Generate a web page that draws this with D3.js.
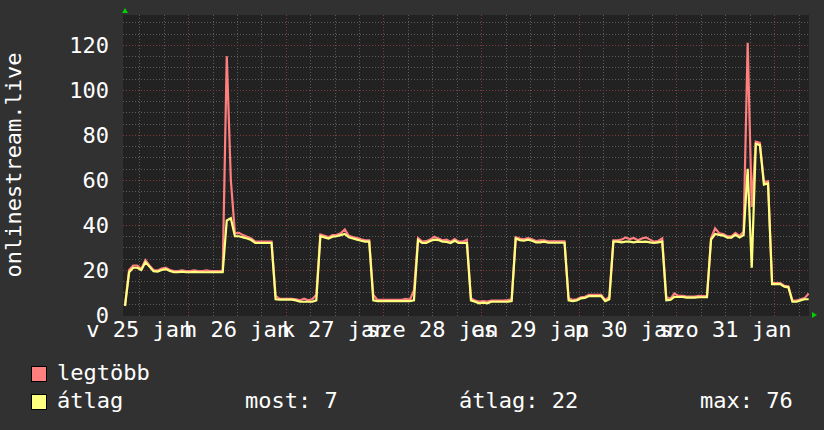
<!DOCTYPE html>
<html>
<head>
<meta charset="utf-8">
<script src="https://cdn.jsdelivr.net/npm/d3@7"></script>
<style>
  html, body { margin: 0; padding: 0; background: #313131; }
  svg { display: block; }
</style>
</head>
<body>
<svg id="chart" width="824" height="430"></svg>
<script>
// ---------- data (hourly, starting 2015-01-25 08:00) ----------
const startTime = new Date(2015, 0, 25, 8, 0, 0);
const spanHours = 168.57;

const avgValues = [
  4, 19, 21, 21, 20, 23.5, 21.5, 19.5, 19.3, 20, 20.4, 19.6, 19, 19, 19.3, 19, 19, 19.2, 19, 19, 19, 19, 19, 19, 19,
  42, 43, 35, 35, 34.5, 34, 33.3, 32, 32, 32, 32, 32,
  7, 6.8, 6.8, 6.8, 6.8, 6.5, 5.9, 5.9, 5.9, 5.9, 6.5,
  35, 34.5, 34, 34.8, 35, 35.5, 36, 34.5, 34, 33.5, 33, 32.6, 32.6,
  6.5, 6.2, 6.2, 6.2, 6.2, 6.2, 6.2, 6.2, 6.2, 6.2, 6.5,
  33.3, 32, 32, 32.9, 33.5, 33.3, 32.6, 32.5, 32, 33, 32, 32, 32,
  6.5, 5.9, 5.2, 5.5, 5.2, 5.9, 5.9, 5.9, 5.9, 5.9, 6.2,
  34, 33.3, 33, 33.5, 33, 32.3, 32.3, 32.6, 32.1, 32.1, 32.1, 32.1, 32.1,
  6.5, 6.2, 6.5, 7.4, 7.6, 8.4, 8.4, 8.4, 8.4, 6.2, 7,
  32.6, 32.6, 32.3, 32.6, 32.6, 32.3, 32.6, 32.5, 32.6, 32.3, 32, 32.3, 32.6,
  6.5, 6.7, 8.1, 8, 8, 7.7, 7.7, 7.7, 7.9, 7.9, 7.9,
  33.5, 36, 35.6, 35.3, 34.4, 34.4, 35.6, 34.5, 35.5,
  65, 21, 76, 75.5, 58, 58.5,
  13.7, 13.7, 13.7, 12.6, 12.3, 5.9, 5.9, 6.5, 7, 7
];

const maxValues = [
  4.5, 20, 22, 22, 20.5, 24.4, 22, 20, 19.8, 20.6, 21, 20, 19.5, 19.5, 19.8, 19.5, 19.5, 19.8, 19.5, 19.5, 19.8, 19.5, 19.5, 19.5, 19.6,
  115, 60, 36.3, 36.5, 35.5, 34.8, 34, 32.6, 32.6, 32.6, 32.6, 32.6,
  8.5, 7.2, 7.2, 7.2, 7.2, 7, 6.5, 7.2, 6.5, 7, 9,
  35.8, 35.2, 34.6, 35.5, 35.6, 36.3, 38, 35.2, 34.6, 34.2, 33.6, 33.2, 33.2,
  9, 6.7, 6.7, 6.7, 6.7, 6.7, 6.7, 6.7, 7.2, 6.7, 11,
  34.2, 32.6, 32.8, 33.5, 34.8, 34, 33.2, 33.5, 32.6, 33.8, 32.6, 32.6, 33.5,
  7.5, 6.4, 6, 6.2, 6, 6.4, 6.4, 6.4, 6.4, 6.6, 7,
  34.6, 34, 33.6, 34.2, 33.6, 32.9, 33.2, 33.2, 32.7, 32.7, 32.7, 32.7, 32.7,
  7.5, 6.7, 7, 7.9, 8.1, 8.9, 8.9, 8.9, 8.9, 6.7, 8,
  33.2, 33.2, 33.5, 34.5, 33.7, 34.2, 33.2, 34, 34.5, 33.5, 32.6, 32.9, 34,
  8, 7.2, 9.6, 8.5, 8.5, 8.2, 8.2, 8.2, 8.5, 8.4, 8.4,
  34.2, 38.5, 36.3, 36, 35, 35, 36.5, 35.2, 37,
  121, 48, 77, 76.5, 59, 59.5,
  14.2, 14.2, 14.2, 13, 12.8, 6.4, 6.4, 7, 7.5, 9.6
];

const yTickValues = [0, 20, 40, 60, 80, 100, 120];
const dayLabels = ["v 25 jan", "h 26 jan", "k 27 jan", "sze 28 jan", "cs 29 jan", "p 30 jan", "szo 31 jan"];
const seriesNames = ["legtöbb", "átlag"];
const seriesColors = ["#ff7f7f", "#ffff7f"];
const statLabels = ["most: 7", "átlag: 22", "max: 76"];
const yTitle = "onlinestream.live";

// ---------- layout ----------
const FONT = "'DejaVu Sans Mono', monospace";
const plot = { left: 123, top: 15, width: 686, height: 300 };
const svg = d3.select("#chart");

const endTime = new Date(+startTime + spanHours * 3600e3);
const x = d3.scaleTime().domain([startTime, endTime]).range([plot.left, plot.left + plot.width]);
const y = d3.scaleLinear().domain([0, 133.33]).range([plot.top + plot.height, plot.top]);

const hourDate = h => new Date(+startTime + h * 3600e3);

// background
svg.append("rect").attr("x", 0).attr("y", 0).attr("width", 824).attr("height", 430).attr("fill", "#313131");
svg.append("rect").attr("x", plot.left).attr("y", plot.top).attr("width", plot.width).attr("height", plot.height + 1)
  .attr("fill", "#222222");

// grid
const grid = svg.append("g");
const minorY = d3.range(5, 133, 5).filter(v => v % 20 !== 0);
grid.selectAll("line.minorY").data(minorY).join("line")
  .attr("x1", plot.left).attr("x2", plot.left + plot.width)
  .attr("y1", d => Math.round(y(d)) + 0.5).attr("y2", d => Math.round(y(d)) + 0.5)
  .attr("stroke", "#5c5c5c").attr("stroke-width", 1).attr("stroke-dasharray", "1,2");

const minorX = d3.timeHour.every(6).range(startTime, endTime).filter(d => d.getHours() !== 0);
grid.selectAll("line.minorX").data(minorX).join("line")
  .attr("x1", d => Math.round(x(d)) + 0.5).attr("x2", d => Math.round(x(d)) + 0.5)
  .attr("y1", plot.top).attr("y2", plot.top + plot.height + 2)
  .attr("stroke", "#5c5c5c").attr("stroke-width", 1).attr("stroke-dasharray", "1,2");

grid.selectAll("line.majorY").data(yTickValues.filter(v => v > 0)).join("line")
  .attr("x1", plot.left).attr("x2", plot.left + plot.width)
  .attr("y1", d => Math.round(y(d)) + 0.5).attr("y2", d => Math.round(y(d)) + 0.5)
  .attr("stroke", "#803c3c").attr("stroke-width", 1).attr("stroke-dasharray", "1,2");

const majorX = d3.timeDay.range(startTime, endTime);
grid.selectAll("line.majorX").data(majorX).join("line")
  .attr("x1", d => Math.round(x(d)) + 0.5).attr("x2", d => Math.round(x(d)) + 0.5)
  .attr("y1", plot.top).attr("y2", plot.top + plot.height + 2)
  .attr("stroke", "#803c3c").attr("stroke-width", 1).attr("stroke-dasharray", "1,2");

// y axis labels
svg.append("g").selectAll("text").data(yTickValues).join("text")
  .attr("x", 109).attr("y", d => y(d) + 8)
  .attr("text-anchor", "end")
  .attr("font-family", FONT).attr("font-size", 22).attr("fill", "#ffffff")
  .text(d => d);

// x axis labels (centred on noon)
const noons = d3.timeDay.range(d3.timeDay.floor(startTime), endTime).map(d => d3.timeHour.offset(d, 12));
svg.append("g").selectAll("text").data(dayLabels).join("text")
  .attr("x", (d, i) => x(noons[i])).attr("y", 337)
  .attr("text-anchor", "middle")
  .attr("font-family", FONT).attr("font-size", 22).attr("fill", "#ffffff")
  .attr("xml:space", "preserve")
  .text(d => d);

// y title
svg.append("text")
  .attr("transform", `translate(21, ${plot.top + plot.height / 2}) rotate(-90)`)
  .attr("text-anchor", "middle")
  .attr("font-family", FONT).attr("font-size", 22).attr("fill", "#ffffff")
  .text(yTitle);

// series
svg.append("clipPath").attr("id", "clip").append("rect")
  .attr("x", plot.left).attr("y", plot.top - 5).attr("width", plot.width).attr("height", plot.height + 6);

const line = d3.line()
  .x(d => x(hourDate(d.h + 0.5)))
  .y(d => y(d.v))
  .curve(d3.curveLinear);

[maxValues, avgValues].forEach((vals, si) => {
  const pts = vals.map((v, h) => ({ h, v }));
  svg.append("path")
    .attr("clip-path", "url(#clip)")
    .attr("d", line(pts))
    .attr("fill", "none")
    .attr("stroke", seriesColors[si])
    .attr("stroke-width", 2.2)
    .attr("stroke-linejoin", "miter");
});

// axis arrows
svg.append("path").attr("d", "M122,13 L128,13 L125,8 Z").attr("fill", "#00d000");
svg.append("path").attr("d", "M812,312 L812,318 L817,315 Z").attr("fill", "#00d000");

// legend
const legend = svg.append("g");
seriesNames.forEach((name, i) => {
  legend.append("rect")
    .attr("x", 31.5).attr("y", 366.5 + i * 28).attr("width", 15).attr("height", 15)
    .attr("fill", seriesColors[i]).attr("stroke", "#000").attr("stroke-width", 1);
  legend.append("text")
    .attr("x", 57).attr("y", 380 + i * 28)
    .attr("font-family", FONT).attr("font-size", 22).attr("fill", "#ffffff")
    .text(name);
});
const statX = [245, 459, 700];
statLabels.forEach((s, i) => {
  legend.append("text")
    .attr("x", statX[i]).attr("y", 408)
    .attr("font-family", FONT).attr("font-size", 22).attr("fill", "#ffffff")
    .text(s);
});
</script>
</body>
</html>
